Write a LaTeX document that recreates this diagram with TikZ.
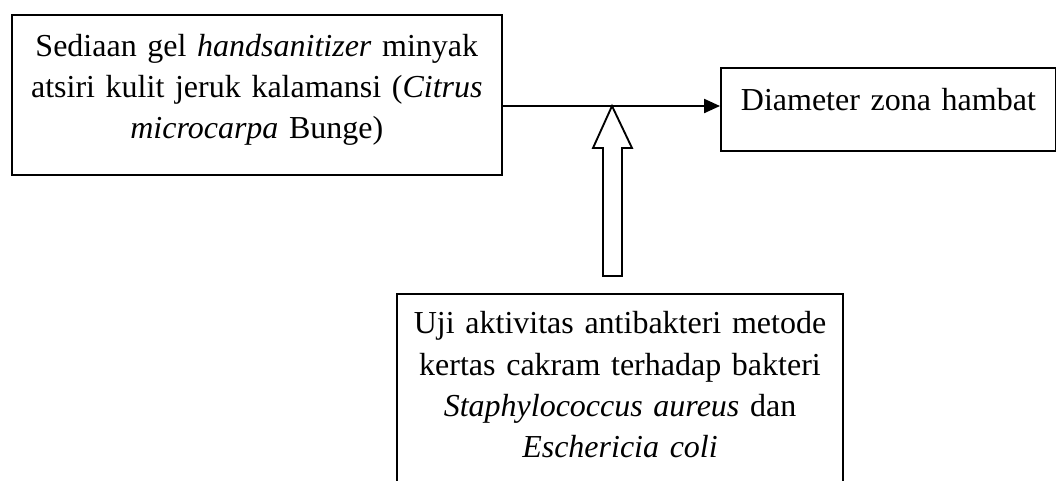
\documentclass[tikz,border=0pt]{standalone}
\usepackage{fontspec}
\setmainfont{Liberation Serif}
\usepackage{tikz}
\usetikzlibrary{arrows.meta,positioning,calc}

\tikzset{
  box/.style={draw, line width=0.7pt, inner sep=0pt, align=center,
    font=\fontsize{12pt}{15.4pt}\selectfont},
}

\begin{document}
\begin{tikzpicture}[x=0.375pt, y=-0.375pt]
\useasboundingbox (0,0) rectangle (1056,480);
\node[box, anchor=north west, text width=183.9pt, text height=15.4pt, text depth=44.6pt] (sediaan) at (10.7,14)
  {Sediaan gel \textit{handsanitizer} minyak\\ atsiri kulit jeruk kalamansi (\textit{Citrus}\\ \textit{microcarpa} Bunge)};
\node[box, anchor=north west, text width=125.6pt, text height=16.1pt, text depth=15pt] (diameter) at (720,67)
  {Diameter zona hambat};
\node[box, anchor=north, text width=167.25pt, text height=15pt, text depth=80pt] (uji) at (620,293)
  {Uji aktivitas antibakteri metode\\ kertas cakram terhadap bakteri\\ \textit{Staphylococcus aureus} dan\\ \textit{Eschericia coli}};
\coordinate (join) at (612,106);
\draw[line width=0.7pt, -{Triangle[length=6pt,width=5.3pt]}] (sediaan.east |- join) -- (diameter.west |- join);
\draw[line width=0.7pt] (join) -- ++(20,42) -- ++(-10,0) -- ++(0,128) -- ++(-19,0) -- ++(0,-128) -- ++(-10,0) -- cycle;
\end{tikzpicture}
\end{document}
